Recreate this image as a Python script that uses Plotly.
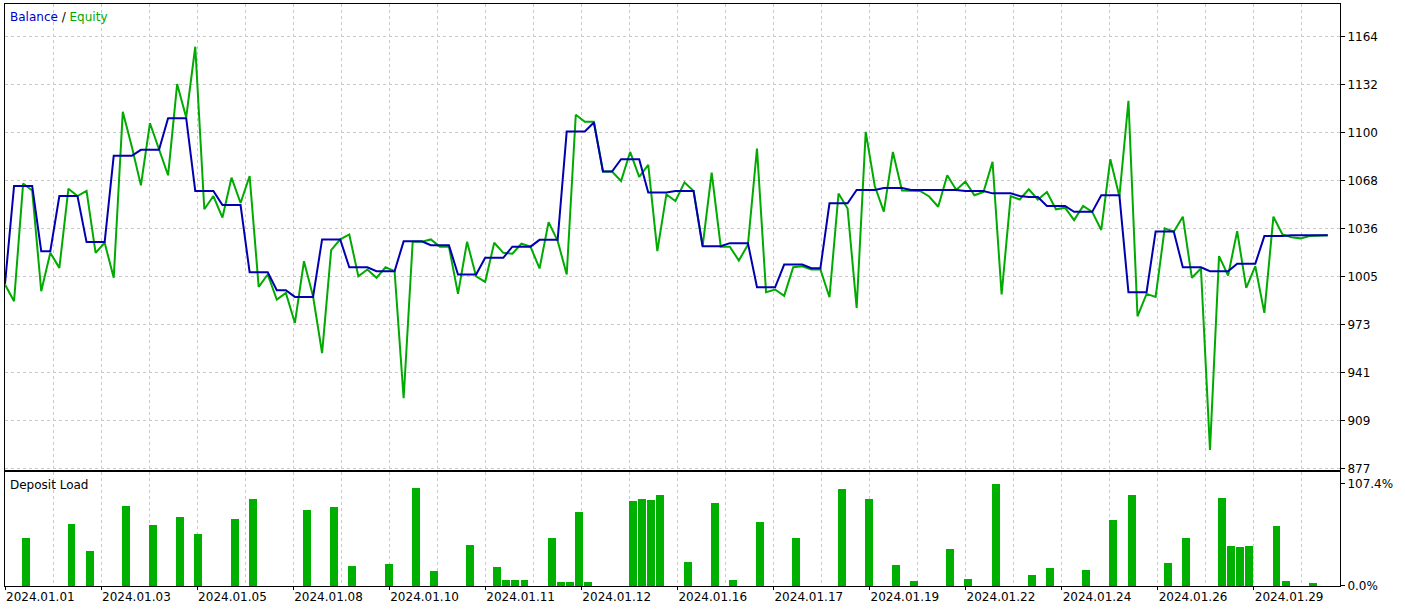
import plotly.graph_objects as go

# ---------------- data ----------------
balance = [
    1000, 1065, 1065, 1065, 1021.7, 1021.7, 1058.3, 1058.3, 1058.3, 1027.7,
    1027.7, 1027.7, 1085, 1085, 1085, 1089, 1089, 1089, 1110, 1110,
    1110, 1061.7, 1061.7, 1061.7, 1052.3, 1052.3, 1052.3, 1007.7, 1007.7, 1007.7,
    995.7, 995.7, 991.3, 991.3, 991.3, 1029.5, 1029.5, 1029.5, 1011, 1011,
    1011, 1008.4, 1008.4, 1008.4, 1028.2, 1028.2, 1028.2, 1025.7, 1025.7, 1025.7,
    1006.2, 1006.2, 1006.2, 1017.3, 1017.3, 1017.3, 1024.7, 1024.7, 1024.7, 1029.2,
    1029.2, 1029.2, 1101.2, 1101.2, 1101.2, 1107.2, 1074.6, 1074.6, 1082.8, 1082.8,
    1082.8, 1060.6, 1060.6, 1060.6, 1061.7, 1061.7, 1061.7, 1025, 1025, 1025,
    1027, 1027, 1027, 997.7, 997.7, 997.7, 1012.8, 1012.8, 1012.8, 1010.4,
    1010.4, 1053.5, 1053.5, 1053.5, 1062.3, 1062.3, 1062.3, 1063.7, 1063.7, 1063.7,
    1062.3, 1062.3, 1062.3, 1062.3, 1062.3, 1062.3, 1061.7, 1061.7, 1061.7, 1060.1,
    1060.1, 1060.1, 1058.3, 1057.7, 1057.7, 1051.7, 1051.7, 1051.7, 1047.8, 1047.8,
    1047.8, 1058.8, 1058.8, 1058.8, 994.4, 994.4, 994.4, 1034.8, 1034.8, 1034.8,
    1011, 1011, 1011, 1008.4, 1008.4, 1008.4, 1013.3, 1013.3, 1013.3, 1031.7,
    1031.7, 1031.7, 1032.3, 1032.3, 1032.3, 1032.3, 1032.3,
]

equity = [
    999.5, 988.4, 1066.6, 1062, 995.1, 1020.6, 1010.6, 1063.2, 1058.3, 1061.7,
    1020.6, 1027.3, 1004, 1114.3, 1091, 1065.4, 1106.7, 1089, 1072.1, 1132.7,
    1110.5, 1157.5, 1049.5, 1058.3, 1044, 1070.5, 1053.7, 1071.6, 998, 1006.2,
    989.5, 994, 974, 1015, 991.7, 954, 1022.4, 1029.5, 1032.8, 1005,
    1009.5, 1004, 1011, 1008.4, 924, 1028, 1028, 1029.5, 1024.7, 1024.7,
    993.3, 1027.9, 1005, 1001.3, 1027.3, 1020.6, 1020, 1026.6, 1024.7, 1010.2,
    1041, 1028.5, 1006.2, 1112.3, 1107.6, 1107.6, 1074.6, 1074.6, 1068.3, 1087.6,
    1071, 1079, 1021.7, 1059.4, 1055, 1067.4, 1061.7, 1025, 1073.9, 1024.7,
    1024.7, 1015.5, 1026, 1089.9, 994.4, 996.2, 992, 1011, 1011.7, 1009.5,
    1009.5, 991.1, 1060, 1050, 984, 1101, 1065, 1048, 1087.6, 1062,
    1062, 1061.7, 1058, 1051.2, 1072.1, 1062.3, 1068, 1058.8, 1061, 1081,
    992.9, 1058.3, 1056, 1062.8, 1056, 1061, 1049.5, 1050.6, 1042.3, 1051.7,
    1047.8, 1035.8, 1082.8, 1058, 1121.6, 978.4, 993.3, 991.3, 1036.8, 1034.6,
    1044.6, 1004, 1010.2, 889.7, 1018.4, 1005.5, 1035, 997.3, 1011.7, 980.7,
    1044.6, 1032.8, 1031, 1030.2, 1031.7, 1032, 1032.3,
]

deal_index = list(range(len(balance)))

load_index = [2, 7, 9, 13, 16, 19, 21, 25, 27, 33, 36, 38, 42, 45, 47, 51,
              54, 55, 56, 57, 60, 61, 62, 63, 64, 69, 70, 71, 72, 75, 78, 80,
              83, 87, 92, 95, 98, 100, 104, 106, 109, 113, 115, 119, 122, 124,
              128, 130, 134, 135, 136, 137, 140, 141, 144]
load_values = [50.5, 65.3, 36.9, 84.2, 64.2, 72.7, 54.8, 70.5, 91.6, 80, 83.2, 21, 23.2, 103.2, 15.8, 43.2,
               20, 6.3, 6.3, 6.3, 50.5, 4.2, 4.2, 77.9, 4.2, 89.5, 91.6, 90.5, 95.8, 25.3, 87.4, 6.3,
               67.4, 50.5, 102, 91.6, 22.1, 5.3, 39, 7.4, 107.4, 11.6, 19, 16.8, 69.5, 95.8,
               24.2, 50.5, 92.7, 42.1, 41, 42.1, 63.2, 5.3, 3.2]

date_labels = ["2024.01.01", "2024.01.03", "2024.01.05", "2024.01.08", "2024.01.10",
               "2024.01.11", "2024.01.12", "2024.01.16", "2024.01.17", "2024.01.19",
               "2024.01.22", "2024.01.24", "2024.01.26", "2024.01.29"]

price_labels = ["877", "909", "941", "973", "1005", "1036", "1068", "1100", "1132", "1164"]
load_labels = ["0.0%", "107.4%"]
load_ticks = [0, 107.4]

# ---------------- styling / geometry ----------------
FONT = "DejaVu Sans"
GRID = "#c8c8c8"
BAL_C = "#0000b0"
EQ_C = "#00aa00"
BAR_C = "#00b000"

grid_step = 5.3013          # vertical grid spacing in deal-index units
x_max = 147.35
price_step = 31.889
price_ticks = [877 + price_step * i for i in range(len(price_labels))]
date_ticks = [2 * grid_step * m for m in range(len(date_labels))]
minor_ticks = [grid_step * (2 * m + 1) for m in range(14)]

fig = go.Figure()

fig.add_trace(go.Scatter(x=deal_index, y=equity, mode="lines",
                         line=dict(color=EQ_C, width=2), xaxis="x", yaxis="y",
                         hoverinfo="skip"))
fig.add_trace(go.Scatter(x=deal_index, y=balance, mode="lines",
                         line=dict(color=BAL_C, width=2), xaxis="x", yaxis="y",
                         hoverinfo="skip"))
fig.add_trace(go.Bar(x=load_index, y=load_values, width=0.88, offset=-0.1,
                     marker=dict(color=BAR_C, line=dict(width=0)),
                     xaxis="x2", yaxis="y2", hoverinfo="skip"))

top_dom = [0.19931, 1.0]
bot_dom = [0.0, 0.19588]

fig.update_layout(
    width=1405, height=609,
    margin=dict(l=5, r=65, t=4, b=23, autoexpand=False),
    paper_bgcolor="white", plot_bgcolor="white",
    showlegend=False,
    font=dict(family=FONT, size=12, color="black"),
    bargap=0,
    xaxis=dict(domain=[0, 1], anchor="y", range=[0, x_max],
               tickmode="linear", tick0=0, dtick=grid_step,
               showticklabels=False, ticks="",
               showgrid=True, gridcolor=GRID, griddash="3px,3px", gridwidth=1,
               showline=True, linecolor="black", linewidth=1, mirror=True,
               zeroline=False),
    yaxis=dict(domain=top_dom, anchor="x", range=[876.3, 1185.9], side="right",
               tickmode="array", tickvals=price_ticks, ticktext=price_labels,
               ticks="outside", ticklen=4, tickcolor="black",
               showgrid=True, gridcolor=GRID, griddash="3px,3px", gridwidth=1,
               showline=True, linecolor="black", linewidth=1, mirror=True,
               zeroline=False, tickfont=dict(family=FONT, size=12, color="black")),
    xaxis2=dict(domain=[0, 1], anchor="y2", range=[0, x_max],
                tickmode="array", tickvals=date_ticks, ticktext=date_labels,
                ticks="outside", ticklen=3, tickcolor="black",
                ticklabelposition="outside right",
                showgrid=True, gridcolor=GRID, griddash="3px,3px", gridwidth=1,
                minor=dict(tickmode="array", tickvals=minor_ticks, showgrid=True,
                           gridcolor=GRID, griddash="3px,3px", ticks=""),
                showline=True, linecolor="black", linewidth=1, mirror=True,
                zeroline=False, tickfont=dict(family=FONT, size=12, color="black")),
    yaxis2=dict(domain=bot_dom, anchor="x2", range=[0, 120], side="right",
                tickmode="array", tickvals=load_ticks, ticktext=load_labels,
                ticks="outside", ticklen=4, tickcolor="black",
                showgrid=False,
                showline=True, linecolor="black", linewidth=1, mirror=True,
                zeroline=False, tickfont=dict(family=FONT, size=12, color="black")),
    annotations=[
        dict(x=0, y=1, xref="paper", yref="paper", xanchor="left", yanchor="top",
             xshift=3, yshift=-4, showarrow=False,
             text=('<span style="color:#0000c8">Balance</span>'
                   '<span style="color:#000000"> / </span>'
                   '<span style="color:#00aa00">Equity</span>'),
             font=dict(family=FONT, size=12)),
        dict(x=0, y=bot_dom[1], xref="paper", yref="paper", xanchor="left", yanchor="top",
             xshift=3, yshift=-4, showarrow=False, text="Deposit Load",
             font=dict(family=FONT, size=12, color="black")),
    ],
)

fig.write_html("out.html",
               config={"displayModeBar": False},
               post_script="document.body.style.margin='0px';document.body.style.padding='0px';")
